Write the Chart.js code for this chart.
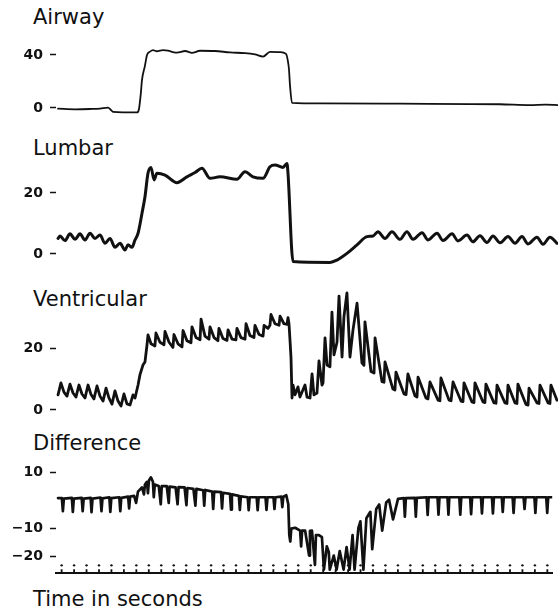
<!DOCTYPE html>
<html>
<head>
<meta charset="utf-8">
<script src="https://cdn.jsdelivr.net/npm/chart.js@4.4.1/dist/chart.umd.min.js"></script>
<style>
html,body{margin:0;padding:0;background:#fff;}
#wrap{position:relative;width:558px;height:611px;overflow:hidden;background:#fff;}
canvas{position:absolute;left:0;}
.ttl{position:absolute;left:33px;font:21px/21px "DejaVu Sans",sans-serif;color:#111;white-space:nowrap;}
</style>
</head>
<body>
<div id="wrap">
  <div class="ttl" style="top:7px">Airway</div>
  <canvas id="airC" width="558" height="82" style="top:40px"></canvas>
  <div class="ttl" style="top:138px">Lumbar</div>
  <canvas id="lumC" width="558" height="110" style="top:160px"></canvas>
  <div class="ttl" style="top:289px">Ventricular</div>
  <canvas id="venC" width="558" height="135" style="top:285px"></canvas>
  <div class="ttl" style="top:433px">Difference</div>
  <canvas id="difC" width="558" height="124" style="top:455px"></canvas>
  <div class="ttl" style="top:589px">Time in seconds</div>
</div>
<script>
/* ── DATA (time in s, pressure) ── */
const airwayTime = [-0.29,1.06,2.25,3.04,3.67,3.91,4.07,5.98,6.13,6.29,6.37,6.61,6.77,7.01,7.25,7.56,8.04,8.44,8.83,9.15,9.79,10.34,10.98,12.17,13.36,14.55,15.34,15.98,16.53,17.33,17.80,17.96,18.04,18.12,18.28,20.50,26.85,34.79,37.20,38.39,39.39];
const airwayPressure = [-0.5,-1.0,-0.8,-0.5,0.2,-1.5,-3.0,-3.4,-1.0,12,21,32,40,42.5,43.6,42.8,43.6,43.2,42.2,41.8,43.0,41.6,43.2,43.0,41.9,41.4,40.4,38.8,42.3,42.1,40.8,35,29,17,3.8,3.4,3.2,2.8,2.2,2.5,2.2];

const lumbarTime = [-0.29,-0.13,0.26,0.66,1.06,1.45,1.85,2.25,2.64,3.04,3.44,3.83,4.23,4.63,5.02,5.26,5.58,5.82,6.06,6.37,6.61,6.85,7.09,7.33,7.56,8.20,9.15,9.94,10.58,11.13,11.77,12.56,13.91,14.55,15.18,15.98,16.53,16.93,17.56,17.88,17.96,18.36,21.29,21.85,22.64,23.44,24.23,24.71,25.10,25.66,26.21,26.85,27.40,27.88,28.60,29.07,29.79,30.26,30.98,31.45,32.17,32.64,33.20,33.75,34.23,34.79,35.42,35.98,36.53,37.01,37.72,38.20,38.75,39.31];
const lumbarPressure = [5.1,5.9,4.4,6.6,4.8,6.6,4.6,6.8,5.1,6.2,3.5,5.1,2.2,3.5,1.3,3.0,2.2,4.6,6.8,13.3,18.8,26.5,28.4,24.3,26.5,25.9,23.4,25.3,26.7,28.1,24.8,25.3,24.5,27.0,25.3,24.8,28.6,29.2,28.4,29.7,26.5,-2.5,-2.8,-2.0,0.2,3.0,5.7,5.9,7.3,5.1,7.3,4.8,7.3,4.8,7.0,4.6,6.8,4.4,6.6,4.3,6.2,4.0,6.0,3.8,5.9,3.7,5.7,3.5,5.7,3.3,5.5,3.2,5.5,3.5];

const ventTime = [-0.29,-0.06,0.18,0.42,0.66,0.90,1.13,1.37,1.61,1.85,2.09,2.33,2.56,2.80,3.04,3.28,3.52,3.75,3.99,4.23,4.47,4.71,4.94,5.18,5.42,5.66,5.82,6.06,6.21,6.45,6.61,6.77,6.85,
  7.09,7.40,7.48,7.80,8.12,8.20,8.52,8.83,8.91,9.23,9.55,9.63,9.94,10.26,10.34,10.66,10.98,11.06,11.37,11.69,11.77,12.09,12.40,12.48,12.80,13.12,13.20,13.52,13.83,13.91,14.23,14.55,14.63,14.94,15.26,15.34,15.66,15.98,16.06,16.37,16.53,16.61,16.93,17.25,17.33,17.64,17.88,17.96,18.04,18.12,18.20,18.28,
  18.36,18.52,18.75,18.91,19.31,19.47,19.71,19.87,20.02,20.26,20.42,20.66,20.74,20.90,21.06,21.29,21.45,21.61,21.85,22.01,22.25,22.40,22.64,22.88,23.12,23.44,
  23.83,23.99,24.07,24.55,24.79,24.87,25.42,25.58,25.66,26.29,26.45,26.53,27.17,27.33,27.48,
  28.04,28.20,28.28,28.91,29.07,29.23,29.87,30.02,30.10,30.74,30.90,31.06,31.69,31.85,31.93,32.56,32.72,32.80,33.44,33.59,33.67,34.31,34.47,34.55,35.18,35.34,35.42,35.98,36.13,36.21,36.85,37.01,37.09,37.72,37.88,37.96,38.60,38.75,38.83,39.31];
const ventPressure = [4.9,8.8,5.8,4.5,8.4,5.5,4.2,8.1,5.2,3.9,8.1,5.0,3.6,7.8,4.5,2.9,7.1,3.9,1.9,6.2,2.9,1.3,5.2,2.0,1.6,4.9,3.9,8.1,11.4,14.6,15.6,21.1,24.4,
  21.5,20.8,25.0,22.0,21.2,25.5,22.0,20.3,24.5,21.5,20.5,25.8,22.5,21.8,27.0,23.5,22.8,29.5,24.0,23.0,27.0,23.5,22.5,26.5,23.2,22.6,26.0,23.0,22.8,26.5,23.5,23.0,28.0,24.2,23.5,27.5,24.5,24.0,27.5,26.5,27.5,31.0,28.0,27.5,30.5,28.0,27.8,30.0,28.0,22.7,16.9,3.9,
  8.1,4.9,7.5,4.2,8.1,4.2,3.9,11.7,4.9,5.5,15.9,8.1,8.8,23.4,14.6,14.0,31.8,17.9,22.0,37.0,17.2,30.2,38.0,17.2,26.0,34.7,
  15.3,14.5,28.6,12.5,12.0,23.4,9.2,9.0,15.6,6.8,6.5,12.3,5.2,5.0,11.7,
  4.6,4.2,10.7,3.9,3.6,9.1,3.2,3.0,10.4,3.2,3.0,9.1,2.9,2.7,8.8,2.6,2.4,8.8,2.6,2.4,8.4,2.3,2.2,8.1,2.3,2.1,8.1,2.3,2.1,8.4,1.8,1.6,7.1,2.3,2.1,8.1,2.3,2.1,8.1,3.2];

const diffTime = [-0.29,0.02,0.10,0.18,0.82,0.90,0.98,1.61,1.69,1.77,2.33,2.40,2.48,3.12,3.20,3.28,3.83,3.91,3.99,4.63,4.71,4.79,5.34,5.42,5.50,
  5.82,5.98,6.13,6.45,6.61,6.69,6.85,6.93,7.01,7.17,7.33,7.40,7.48,7.80,7.96,8.04,8.44,8.60,8.67,9.15,9.31,9.39,9.87,10.02,10.10,10.58,10.74,10.82,11.37,11.45,11.53,12.09,12.17,12.25,12.80,12.88,12.96,13.52,13.60,13.67,14.23,14.31,14.39,14.94,15.02,15.10,15.66,15.74,15.82,16.37,16.45,16.53,17.01,17.09,17.17,17.64,17.72,17.80,
  18.04,18.20,18.28,18.36,18.44,18.75,19.15,19.23,19.31,19.55,19.87,19.94,20.10,20.34,20.42,20.66,20.90,21.06,21.29,21.45,21.53,21.85,22.08,22.33,22.64,22.88,23.12,23.36,23.52,23.83,23.99,24.23,24.47,24.79,24.94,25.26,25.50,25.74,26.06,26.29,26.61,27.01,
  27.48,27.56,27.64,28.36,28.44,28.52,29.31,29.39,29.47,30.18,30.26,30.34,30.98,31.06,31.13,31.93,32.01,32.09,32.80,32.88,32.96,33.67,33.75,33.83,34.55,34.63,34.71,35.34,35.42,35.50,36.21,36.29,36.37,37.09,37.17,37.25,37.96,38.04,38.12,38.91,38.99,39.07,39.39];
const diffPressure = [0.7,0.7,-4.0,0.5,0.8,-4.2,0.5,0.8,-4.0,0.5,0.8,-4.3,0.5,0.9,-4.0,0.6,1.0,-4.2,0.7,1.0,-4.0,0.8,1.2,-3.0,1.2,
  1.5,-1.0,3.0,4.5,2.0,5.5,6.5,2.5,7.0,8.1,6.5,1.0,5.5,5.0,-1.5,5.0,5.0,-1.0,4.8,4.5,-1.5,4.6,4.5,-1.8,4.3,4.0,-2.0,4.0,3.5,-2.0,3.6,3.0,-3.2,3.0,2.8,-3.0,2.6,2.2,-3.4,2.0,1.5,-3.5,1.3,1.0,-3.6,1.0,1.0,-3.6,1.0,1.0,-3.5,1.0,1.0,-3.2,1.0,1.2,-2.5,1.2,
  1.7,-1.5,-12.5,-14.8,-10.2,-9.9,-10.9,-16.5,-10.9,-10.9,-19.8,-11.0,-10.9,-23.1,-12.5,-12.5,-13.2,-24.8,-16.5,-18.5,-24.8,-19.8,-24.8,-18.2,-24.8,-16.8,-24.8,-12.5,-24.8,-9.9,-7.6,-24.8,-6.5,-4.2,-17.5,-3.2,-1.6,-10.9,-0.9,0.1,-6.9,0.4,
  0.7,-5.9,0.7,0.8,-5.9,0.8,1.0,-5.3,1.0,1.0,-5.2,1.0,1.0,-5.2,1.0,1.0,-5.2,1.0,1.0,-5.0,1.0,1.0,-4.8,1.0,1.0,-4.8,1.0,1.0,-4.2,1.0,1.0,-4.6,1.0,1.0,-3.2,1.0,1.0,-4.6,1.0,1.0,-4.6,1.0,1.0];

const timeMarks = [0,1,2,3,4,5,6,7,8,9,10,11,12,13,14,15,16,17,18,19,20,21,22,23,24,25,26,27,28,29,30,31,32,33,34,35,36,37,38,39];

const airwayTicks = [0, 40];
const lumbarTicks = [0, 20];
const ventTicks = [0, 20];
const diffTicks = [-20, -10, 10];

/* ── HELPERS ── */
const INK = '#111';
const X_MIN = -0.452, X_MAX = 39.39;
const pts = (ts, vs) => ts.map((t, i) => ({x: t, y: vs[i]}));
const fmt = v => (v < 0 ? '\u2212' : '') + Math.abs(v);

function trace(ts, vs, w, smooth){
  return {data: pts(ts, vs), borderColor: INK, borderWidth: w, pointRadius: 0, fill: false,
    tension: smooth ? 0.4 : 0, cubicInterpolationMode: smooth ? 'monotone' : 'default',
    borderJoinStyle: 'round', borderCapStyle: 'round'};
}

function panel(id, datasets, yMin, yMax, ticks, timeAxis){
  return new Chart(document.getElementById(id), {
    type: 'line',
    data: {datasets},
    options: {
      responsive: false, animation: false, devicePixelRatio: 1,
      layout: {padding: {left: 0, right: 0, top: 0, bottom: timeAxis ? 3 : 0}},
      plugins: {legend: {display: false}, tooltip: {enabled: false}},
      scales: {
        x: {type: 'linear', min: X_MIN, max: X_MAX, display: timeAxis,
            ticks: {display: false}, grid: {display: true, drawOnChartArea: false, drawTicks: false},
            border: {display: true, color: INK, width: 2}},
        y: {min: yMin, max: yMax,
            afterBuildTicks: s => { s.ticks = ticks.map(v => ({value: v})); },
            afterFit: s => { s.width = 56; s.paddingTop = 0; s.paddingBottom = 0; },
            ticks: {callback: fmt, color: INK, padding: 7, font: {family: 'DejaVu Sans', size: 14, weight: 'bold'}},
            grid: {display: true, drawOnChartArea: false, drawTicks: true, tickLength: 6, tickWidth: 1.5, tickColor: INK},
            border: {display: false}}
      }
    }
  });
}

/* ── PANELS ── */
panel('airC', [trace(airwayTime, airwayPressure, 1.8, true)], -10.6, 51.3, airwayTicks, false);
panel('lumC', [trace(lumbarTime, lumbarPressure, 3, true)], -5.25, 30.82, lumbarTicks, false);
panel('venC', [trace(ventTime, ventPressure, 2.8, false)], -3.25, 40.58, ventTicks, false);
panel('difC', [
  trace(diffTime, diffPressure, 2.7, false),
  {data: pts(timeMarks, timeMarks.map(() => -25.3)), showLine: false, pointStyle: 'line', pointRotation: 90,
   pointRadius: 1.8, pointBorderWidth: 1.8, pointBorderColor: INK},
  {data: pts(timeMarks, timeMarks.map(() => -23.3)), showLine: false, pointStyle: 'circle',
   pointRadius: 1.2, pointBorderWidth: 0, pointBackgroundColor: INK}
], -26.1, 14.0, diffTicks, true);
</script>
</body>
</html>
